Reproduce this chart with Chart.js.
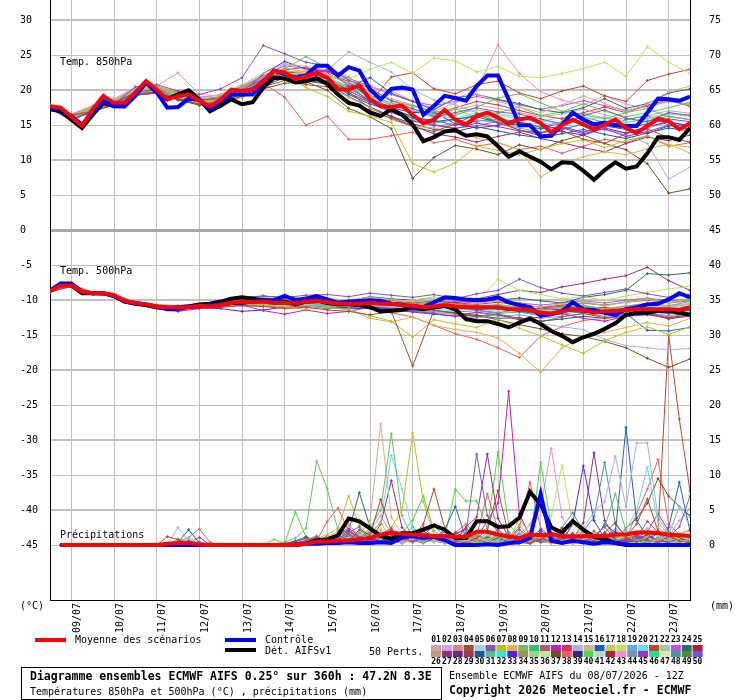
<!DOCTYPE html>
<html>
<head>
<meta charset="utf-8">
<script src="https://cdn.jsdelivr.net/npm/chart.js@4.4.0/dist/chart.umd.min.js"></script>
<style>
  html, body { margin: 0; padding: 0; background: #fff; }
  #wrap { width: 740px; height: 700px; position: relative; }
  canvas { display: block; }
</style>
</head>
<body>
<div id="wrap"><canvas id="chart" width="740" height="700"></canvas></div>
<script>
// ---- data ----
// tick labels
const DATE_LABELS = ['09/07','10/07','11/07','12/07','13/07','14/07','15/07','16/07',
  '17/07','18/07','19/07','20/07','21/07','22/07','23/07'];
const TEMP_TICKS = [-45,-40,-35,-30,-25,-20,-15,-10,-5,0,5,10,15,20,25,30];
const RIGHT_TICKS = [0,5,10,15,20,25,30,35,40,45,50,55,60,65,70,75];

// main series, one value every 6h from 08/07 12Z (+0h .. +360h)
const MEAN_850 = [17.7,17.5,16.2,14.9,17.3,19.2,18.2,18.2,19.7,21.3,
  20.1,18.7,19.2,19.4,18.5,17.7,18.7,20.1,19.9,20.1,
  21.3,22.8,22.5,21.6,22.0,22.5,21.8,20.1,20.1,20.7,
  18.7,17.7,17.6,17.8,16.5,15.3,15.8,17.2,15.8,15.1,
  16.3,16.8,16.1,15.2,15.8,16.1,15.3,14.0,15.0,15.8,
  15.1,14.4,15.1,15.8,14.6,13.9,14.9,15.9,15.6,14.4,15.3];
const CTRL_850 = [17.5,17.3,16.3,15.1,16.8,18.5,17.7,17.7,19.2,21.1,
  19.7,17.5,17.6,18.8,18.7,17.3,18.5,19.4,19.4,19.4,
  21.1,22.8,22.3,21.8,22.1,23.5,23.5,22.1,23.3,22.8,
  20.1,18.7,20.2,20.4,20.1,16.5,17.8,19.2,18.9,18.5,
  20.6,22.1,22.1,18.7,15.0,15.0,13.4,13.5,15.1,16.8,
  15.8,15.1,15.4,15.0,14.9,14.9,16.8,18.8,18.7,18.5,19.1];
const DET_850 = [17.3,17.0,15.8,14.6,16.5,18.2,17.7,17.7,19.4,21.2,
  19.7,18.7,19.4,20.0,18.7,17.0,17.8,18.7,18.0,18.3,
  20.4,21.8,21.7,21.1,21.3,21.7,20.9,19.4,18.2,17.8,
  16.8,16.3,17.3,16.5,15.1,12.7,13.3,14.1,14.3,13.5,
  13.7,13.4,12.0,10.5,11.3,10.5,9.8,8.7,9.7,9.6,
  8.5,7.2,8.6,9.7,8.8,9.1,11.0,13.3,13.3,12.9,14.6];

const MEAN_500 = [-8.7,-7.9,-7.9,-8.8,-9.0,-9.0,-9.3,-10.1,-10.4,-10.6,
  -10.9,-11.0,-11.0,-11.0,-10.8,-10.9,-10.7,-10.4,-10.2,-10.3,
  -10.2,-10.4,-10.4,-10.5,-10.2,-10.1,-10.3,-10.5,-10.5,-10.5,
  -10.4,-10.5,-10.5,-10.7,-10.8,-11.0,-10.9,-10.7,-10.9,-11.0,
  -11.0,-11.0,-11.0,-11.3,-11.3,-11.4,-11.8,-11.9,-11.6,-11.3,
  -11.4,-11.8,-11.6,-11.5,-11.4,-11.3,-11.3,-11.3,-11.3,-11.4,-11.0];
const CTRL_500 = [-8.6,-7.6,-7.6,-8.8,-9.0,-9.0,-9.4,-10.2,-10.4,-10.6,
  -10.9,-11.3,-11.3,-10.9,-10.9,-10.7,-10.6,-10.4,-10.4,-10.2,
  -10.0,-10.0,-9.4,-10.0,-9.8,-9.4,-9.9,-10.4,-10.2,-10.1,
  -10.0,-10.1,-10.5,-10.6,-11.0,-11.0,-10.3,-9.6,-9.7,-9.9,
  -10.0,-9.9,-9.6,-10.3,-10.7,-11.0,-12.2,-12.0,-11.6,-10.3,
  -11.3,-11.4,-11.8,-12.1,-11.3,-11.0,-10.6,-10.5,-9.9,-9.0,-9.6];
const DET_500 = [-8.7,-7.7,-7.9,-9.0,-9.0,-9.0,-9.4,-10.2,-10.5,-10.7,
  -11.0,-11.2,-11.0,-10.9,-10.6,-10.5,-10.2,-9.8,-9.6,-9.8,
  -10.0,-10.1,-10.2,-10.6,-10.2,-10.0,-10.4,-10.6,-10.6,-10.7,
  -11.0,-11.6,-11.5,-11.4,-11.0,-11.3,-11.0,-10.8,-11.3,-12.7,
  -13.0,-13.0,-13.4,-13.9,-13.2,-12.6,-13.4,-14.4,-15.1,-16.0,
  -15.3,-14.8,-14.1,-13.3,-12.1,-11.8,-11.8,-11.5,-11.5,-11.8,-12.1];

// precipitation (mm), no value at +0h
const MEAN_RR = [null,0,0,0,0,0,0,0,0,0,
  0,0.2,0.3,0.3,0.1,0,0,0,0,0,
  0,0,0,0,0.2,0.5,0.5,0.6,0.7,0.8,
  1.0,1.5,1.8,1.6,1.5,1.4,1.3,1.3,1.2,1.2,
  1.9,1.9,1.5,1.2,1.0,1.5,1.4,1.5,1.3,1.2,
  1.3,1.3,1.3,1.5,1.5,1.8,1.8,1.7,1.5,1.4,1.3];
const CTRL_RR = [null,0,0,0,0,0,0,0,0,0,
  0,0,0,0,0,0,0,0,0,0,
  0,0,0,0.1,0.2,0.2,0.3,0.3,0.4,0.3,
  0.3,0.4,0.3,1.1,1.3,1.0,1.2,0.7,0,0,
  0,0.1,0,0.3,0.4,1.0,7.3,0.6,0.3,0.6,
  0.4,0.2,0.4,0.3,0.1,0,0,0,0,0,0];
const DET_RR = [null,0,0,0,0,0,0,0,0,0,
  0,0,0,0,0,0,0,0,0,0,
  0,0,0,0,0.2,0.7,0.8,1.4,3.8,3.4,
  2.4,1.3,0.9,1.7,1.7,2.2,2.8,2.2,1.0,1.0,
  3.4,3.4,2.6,2.7,3.9,7.6,5.8,2.5,1.8,3.4,
  2.2,1.2,0.8,0.3,0,0,0,0,0,0,0];

// perturbed members drawn (number in the 01..50 legend)
const MEMBER_IDS = [4,6,7,8,9,12,14,15,16,18,20,21,24,27,33,37,38,40,43,48,1,10,13,19,23,30,35,45];

// member 850hPa, one value every 12h
const MEMBER_850 = [
  [17.5,16.4,17.0,17.9,19.3,19.6,18.8,18.0,18.1,19.2,20.5,21.4,20.8,20.5,18.4,17.1,16.0,14.8,14.1,15.2,16.6,15.4,14.3,13.5,14.2,13.0,12.4,13.8,14.5,13.2,12.6],
  [17.6,15.8,16.9,18.0,20.5,20.8,19.9,19.4,20.2,21.8,26.4,25.2,24.0,23.5,21.4,20.3,18.5,17.4,16.2,16.8,17.5,16.9,16.6,15.9,15.2,16.4,17.2,16.0,15.5,16.8,16.4],
  [17.8,16.3,17.7,18.6,19.8,20.3,19.5,18.6,18.2,19.0,20.8,22.1,20.4,19.1,17.0,16.3,15.4,9.5,8.3,9.6,12.0,11.4,10.8,11.6,12.4,12.9,11.8,12.8,13.5,12.2,11.9],
  [17.4,16.1,17.2,17.8,19.6,19.9,19.0,18.1,18.8,19.6,21.0,22.6,22.8,20.5,19.0,17.5,15.8,14.9,14.6,14.0,13.2,12.5,11.5,7.6,9.5,10.5,11.2,10.8,11.6,12.3,11.0],
  [17.7,16.0,17.4,18.3,19.9,20.4,19.6,18.2,18.4,20.5,22.0,23.1,24.8,23.2,21.9,19.8,18.5,17.8,17.0,16.4,17.6,18.9,19.5,18.2,17.0,16.5,15.9,16.8,17.4,16.2,15.8],
  [17.6,16.5,17.0,18.0,19.5,19.8,18.9,18.6,18.9,20.1,21.6,22.0,21.5,23.0,20.6,18.4,16.9,15.6,15.0,14.5,15.3,14.8,14.2,13.9,14.6,13.8,14.5,13.4,14.1,15.0,14.4],
  [17.9,16.2,17.5,18.4,20.2,20.6,19.3,18.4,18.5,20.0,21.7,23.8,23.4,22.9,25.5,24.0,22.6,20.1,18.6,17.9,16.8,15.5,14.7,15.4,14.8,15.9,14.5,13.6,12.4,7.3,9.0],
  [17.9,16.0,17.6,18.5,20.1,20.5,19.8,18.9,19.4,20.8,22.4,23.8,22.9,22.0,21.2,19.9,18.8,17.9,17.0,18.2,19.5,18.4,17.6,16.8,17.9,19.2,18.1,16.9,18.0,19.8,20.6],
  [17.5,16.1,17.3,18.3,19.6,20.0,19.0,18.3,18.6,19.8,21.2,22.4,21.6,21.3,19.4,18.0,17.2,16.3,15.5,15.9,16.2,15.4,15.0,14.5,14.8,14.0,14.9,14.4,13.8,14.9,15.1],
  [17.8,16.4,17.6,18.4,19.8,20.4,19.3,18.7,18.9,19.7,21.0,22.3,22.5,22.1,21.6,23.0,24.0,22.4,24.6,24.2,22.6,23.4,22.0,21.8,22.4,23.1,24.0,22.0,26.2,24.0,22.4],
  [17.6,16.0,17.3,18.1,19.4,20.0,19.2,18.4,18.6,19.9,21.4,22.2,21.9,21.5,20.3,19.1,18.0,17.1,16.4,16.0,16.8,16.5,15.9,15.6,15.3,15.8,16.2,15.4,15.9,16.6,16.3],
  [17.7,16.3,17.1,18.2,19.7,20.2,19.4,18.6,18.8,20.0,21.5,22.7,22.2,21.6,19.6,18.3,21.9,22.5,20.2,19.5,20.8,21.3,19.6,18.8,19.9,20.6,19.2,18.4,21.4,22.3,23.0],
  [17.8,16.1,17.4,18.2,19.9,20.1,19.1,18.2,18.4,19.4,21.0,22.4,21.4,21.0,20.5,21.8,19.6,18.4,17.2,18.9,19.4,18.7,18.1,17.2,16.8,17.5,18.8,17.4,18.1,19.6,20.2],
  [17.5,16.2,17.2,18.1,19.6,19.9,19.0,18.5,18.8,19.8,21.2,22.6,22.3,21.9,19.8,17.4,16.2,14.9,13.8,13.3,12.6,13.4,14.0,13.1,12.5,11.8,11.2,12.4,13.3,12.8,13.6],
  [17.4,15.7,17.0,18.0,19.4,19.8,18.7,18.3,18.2,19.5,22.4,24.1,23.0,22.7,21.2,18.9,17.5,16.8,16.9,15.2,14.6,15.0,16.1,15.3,14.1,13.6,14.6,13.9,14.8,15.5,14.9],
  [17.6,16.0,17.1,18.0,19.5,19.7,18.7,17.9,18.2,19.0,20.2,21.0,21.2,20.0,17.4,16.2,14.5,7.4,10.4,12.1,11.6,10.8,12.2,11.5,12.8,13.6,12.4,11.5,9.5,5.3,5.9],
  [17.8,16.5,17.5,18.0,19.5,19.8,19.0,17.8,18.5,19.5,21.0,19.0,15.0,16.3,13.0,13.0,13.5,14.0,12.5,13.0,12.0,12.5,11.5,12.0,11.0,12.0,13.0,12.5,13.5,12.0,12.5],
  [17.7,16.2,17.5,18.3,19.7,20.3,19.5,18.8,19.0,20.2,21.7,22.9,21.8,21.4,20.7,19.2,18.2,17.3,16.6,17.4,16.0,16.8,17.6,16.4,16.9,18.1,17.0,16.2,16.8,17.5,18.3],
  [17.9,16.6,17.8,18.8,20.4,20.6,22.5,19.4,19.2,20.3,21.6,22.8,22.4,22.6,21.5,20.4,19.9,18.5,17.4,18.8,20.0,26.5,22.4,19.8,18.6,17.9,19.2,18.0,17.4,18.6,17.9],
  [17.6,16.0,17.2,18.1,19.5,19.9,18.9,18.0,18.3,19.6,21.1,22.2,21.7,21.1,19.9,18.5,17.3,16.0,15.1,14.6,14.9,15.6,14.3,13.9,14.4,15.2,14.6,15.8,16.4,15.0,14.4],
  [17.7,16.3,17.4,18.3,19.8,20.2,19.3,18.6,18.9,20.3,21.8,23.2,22.6,22.3,20.9,19.6,18.6,17.7,16.9,17.2,17.9,17.4,16.8,16.2,16.6,17.3,16.5,15.8,16.3,17.1,16.7],
  [17.6,16.1,17.2,18.2,19.6,20.0,19.1,18.3,18.5,19.7,21.2,22.5,22.0,21.8,20.2,18.7,17.4,16.2,15.3,15.8,16.5,16.0,15.2,14.8,15.5,16.2,15.4,14.9,15.6,16.3,15.8],
  [17.8,16.4,17.5,18.4,19.9,20.3,19.4,18.7,19.1,20.4,21.9,22.9,23.3,22.4,21.0,19.3,17.9,17.0,16.5,17.5,18.4,17.9,17.1,16.4,15.9,16.8,17.6,16.8,17.9,18.6,17.7],
  [17.5,16.0,17.1,18.0,19.5,19.8,18.9,18.2,18.3,19.5,21.0,22.1,21.8,21.2,19.6,18.2,16.8,15.7,14.9,15.2,15.8,15.3,14.6,14.0,14.5,15.1,14.3,13.9,14.6,15.4,14.9],
  [17.9,16.5,17.7,18.6,20.2,20.6,19.7,19.0,19.3,20.6,22.1,23.5,23.1,22.8,21.7,20.6,19.4,18.4,17.8,18.4,19.1,18.6,17.9,17.3,17.8,18.5,17.8,17.1,17.7,18.4,18.0],
  [17.4,15.9,17.0,17.9,19.3,19.6,18.6,17.9,18.0,19.2,20.6,21.8,21.3,20.9,19.1,17.6,16.3,15.2,14.4,14.1,14.8,14.2,13.6,13.2,13.8,14.4,13.7,13.1,13.9,14.6,14.2],
  [17.7,16.2,17.3,18.2,19.7,20.1,19.2,18.5,18.8,20.0,21.5,22.8,22.4,22.0,20.5,19.0,17.9,16.9,16.1,16.6,17.2,16.7,16.1,15.6,16.1,16.8,16.0,15.4,16.0,16.8,16.4],
  [17.6,16.1,17.2,18.1,19.6,19.9,19.0,18.4,18.6,19.8,21.3,22.6,22.1,21.7,20.0,18.4,17.1,16.0,15.7,15.0,15.6,15.9,15.5,14.7,15.2,15.8,15.0,14.6,15.2,15.9,15.5]
];

// member 500hPa, one value every 12h
const MEMBER_500 = [
  [-8.8,-8.0,-9.1,-9.4,-10.6,-11.2,-11.3,-11.1,-11.0,-10.8,-10.9,-11.2,-11.0,-11.4,-11.6,-12.1,-11.6,-19.4,-11.4,-11.9,-12.4,-12.0,-12.6,-13.1,-12.4,-11.9,-12.5,-12.2,-11.8,-12.6,-12.3],
  [-8.7,-7.8,-9.0,-9.3,-10.3,-10.8,-10.9,-10.6,-10.4,-9.7,-9.4,-9.6,-9.3,-9.2,-9.5,-9.0,-9.3,-9.6,-9.2,-9.8,-9.1,-8.6,-7.0,-8.2,-9.0,-9.4,-8.9,-8.4,-9.1,-9.6,-9.2],
  [-8.6,-7.9,-9.0,-9.3,-10.4,-11.0,-11.2,-11.0,-10.9,-10.6,-10.7,-11.0,-11.3,-11.0,-11.4,-12.2,-13.0,-15.3,-12.8,-13.4,-13.9,-12.7,-14.0,-15.1,-16.4,-17.6,-15.8,-14.6,-13.8,-14.9,-13.8],
  [-8.7,-8.0,-9.1,-9.4,-10.5,-11.0,-11.1,-10.9,-10.8,-10.5,-10.6,-10.9,-10.8,-11.1,-11.3,-12.6,-13.1,-12.4,-13.6,-14.2,-14.6,-15.4,-17.6,-20.3,-16.8,-15.2,-14.6,-13.9,-13.2,-13.7,-12.6],
  [-8.7,-7.8,-8.9,-9.2,-10.3,-10.8,-10.9,-10.7,-10.5,-9.9,-10.0,-10.1,-9.8,-10.0,-10.2,-9.9,-10.3,-10.5,-10.2,-10.6,-10.9,-11.2,-10.8,-11.4,-11.0,-10.7,-11.3,-10.9,-10.4,-10.8,-10.2],
  [-8.8,-8.0,-9.0,-9.4,-10.5,-11.1,-11.6,-11.2,-11.0,-10.7,-11.5,-12.0,-11.4,-11.9,-11.6,-11.0,-11.3,-11.6,-11.9,-12.3,-11.7,-12.1,-12.8,-12.4,-11.9,-12.6,-13.0,-12.3,-11.9,-12.7,-12.2],
  [-8.6,-7.9,-8.9,-9.3,-10.4,-10.9,-11.0,-10.8,-10.6,-10.3,-10.4,-10.6,-10.3,-10.5,-10.8,-10.6,-11.0,-11.2,-11.6,-12.1,-12.6,-12.0,-12.8,-13.3,-13.8,-14.2,-15.6,-16.5,-16.8,-17.1,-16.9],
  [-8.6,-7.7,-8.9,-9.2,-10.2,-10.6,-10.8,-10.5,-10.3,-9.8,-9.6,-9.9,-9.5,-9.8,-10.0,-9.6,-9.9,-10.2,-10.0,-9.8,-10.4,-10.1,-10.6,-11.0,-10.5,-10.2,-10.8,-10.3,-9.9,-10.4,-9.8],
  [-8.7,-7.9,-9.0,-9.3,-10.4,-10.9,-11.0,-10.8,-10.7,-10.2,-10.3,-10.5,-10.2,-10.4,-10.6,-10.5,-10.6,-10.9,-11.0,-11.1,-11.3,-11.2,-11.6,-12.0,-11.7,-11.5,-11.8,-11.9,-14.3,-14.4,-13.9],
  [-8.5,-7.7,-8.8,-9.2,-10.2,-10.7,-10.8,-10.6,-10.4,-10.0,-9.8,-10.0,-9.9,-10.1,-10.3,-10.1,-10.2,-10.0,-9.6,-9.9,-10.2,-7.0,-8.6,-9.2,-9.8,-9.5,-10.0,-9.4,-8.9,-8.4,-8.0],
  [-8.8,-8.1,-9.1,-9.4,-10.6,-11.2,-11.4,-11.1,-11.0,-10.6,-10.7,-10.8,-10.6,-10.7,-10.9,-10.8,-11.0,-11.1,-11.3,-11.5,-11.2,-11.6,-11.4,-12.0,-11.8,-11.3,-11.6,-11.2,-11.0,-10.7,-10.5],
  [-8.7,-7.9,-9.0,-9.2,-10.3,-10.8,-10.9,-10.6,-10.6,-10.1,-10.1,-10.2,-9.9,-10.2,-10.4,-10.0,-10.3,-10.6,-10.9,-10.5,-10.8,-11.0,-11.5,-11.1,-10.9,-11.3,-11.0,-11.6,-12.0,-11.4,-11.2],
  [-8.6,-7.8,-8.9,-9.3,-10.3,-10.7,-10.8,-10.5,-10.3,-9.6,-9.4,-9.7,-9.6,-9.8,-10.1,-9.5,-9.8,-10.0,-9.6,-10.0,-10.3,-10.0,-9.7,-10.1,-10.4,-9.6,-9.2,-8.6,-6.2,-6.4,-6.1],
  [-8.7,-8.0,-9.0,-9.4,-10.5,-11.0,-11.1,-10.9,-10.8,-10.4,-10.5,-10.7,-10.5,-10.6,-10.7,-10.4,-10.8,-10.5,-10.1,-10.4,-9.8,-9.2,-8.6,-8.9,-8.1,-7.6,-7.0,-6.5,-5.3,-7.2,-8.6],
  [-8.8,-8.0,-9.1,-9.4,-10.6,-11.1,-11.3,-11.1,-11.2,-11.6,-11.4,-11.0,-10.8,-11.2,-11.0,-10.9,-11.3,-11.4,-11.2,-10.8,-11.0,-11.3,-11.6,-11.1,-11.4,-11.8,-11.5,-11.2,-11.6,-11.9,-11.4],
  [-8.6,-7.8,-9.0,-9.3,-10.4,-10.9,-11.0,-10.8,-10.7,-10.3,-10.4,-10.6,-10.4,-10.7,-10.9,-10.8,-11.1,-11.4,-11.6,-11.8,-12.2,-12.8,-13.5,-14.1,-14.8,-15.2,-15.9,-16.8,-18.3,-19.6,-18.4],
  [-8.7,-7.9,-9.0,-9.3,-10.4,-10.9,-11.0,-10.8,-10.6,-10.3,-10.3,-10.5,-10.3,-10.5,-10.6,-11.2,-11.8,-12.4,-13.6,-14.8,-15.6,-16.8,-18.2,-15.1,-13.8,-12.9,-12.6,-12.1,-11.8,-12.4,-11.9],
  [-8.6,-7.8,-8.9,-9.2,-10.3,-10.8,-10.9,-10.7,-10.6,-10.1,-10.0,-10.2,-10.0,-10.2,-10.4,-10.2,-10.4,-10.6,-10.4,-10.7,-10.9,-10.6,-11.0,-11.3,-10.9,-10.4,-10.8,-10.2,-9.8,-10.3,-10.0],
  [-8.7,-7.9,-9.0,-9.3,-10.4,-10.9,-11.0,-10.8,-10.7,-10.2,-10.2,-10.4,-10.2,-10.4,-10.5,-10.4,-10.5,-10.8,-10.7,-10.9,-11.1,-10.8,-11.2,-11.5,-11.2,-10.9,-11.3,-10.8,-10.6,-11.0,-10.6],
  [-8.8,-8.0,-9.1,-9.4,-10.5,-11.0,-11.1,-10.9,-10.8,-10.4,-10.4,-10.6,-10.4,-10.6,-10.8,-10.6,-10.8,-11.0,-11.2,-11.0,-11.4,-11.8,-11.3,-11.9,-11.6,-11.2,-11.7,-11.5,-11.2,-11.6,-11.3],
  [-8.7,-7.9,-9.0,-9.3,-10.4,-10.9,-11.0,-10.8,-10.6,-10.2,-10.1,-10.3,-10.0,-10.2,-10.4,-10.2,-10.4,-10.7,-10.6,-10.8,-11.0,-10.7,-11.1,-11.5,-11.1,-10.8,-11.2,-10.8,-10.5,-10.9,-10.5],
  [-8.7,-7.9,-9.0,-9.4,-10.5,-11.0,-11.1,-10.9,-10.8,-10.5,-10.6,-10.8,-10.6,-10.8,-11.0,-10.9,-11.1,-11.3,-11.5,-11.7,-11.5,-11.9,-11.7,-12.2,-12.0,-11.6,-11.9,-11.6,-11.4,-11.8,-11.5],
  [-8.6,-7.8,-8.9,-9.2,-10.3,-10.8,-10.9,-10.7,-10.5,-10.0,-9.9,-10.1,-9.8,-10.0,-10.2,-9.9,-10.1,-10.4,-10.2,-10.4,-10.6,-10.3,-10.7,-11.0,-10.7,-10.4,-10.7,-10.3,-10.0,-10.4,-10.1],
  [-8.8,-8.0,-9.1,-9.4,-10.5,-11.1,-11.2,-11.0,-10.9,-10.6,-10.7,-10.9,-10.7,-10.9,-11.1,-11.0,-11.2,-11.5,-11.8,-12.0,-11.8,-12.3,-12.1,-12.6,-12.3,-11.9,-12.3,-12.0,-11.8,-12.2,-11.8],
  [-8.7,-7.8,-9.0,-9.3,-10.3,-10.8,-10.9,-10.6,-10.4,-9.9,-9.8,-10.0,-9.7,-9.9,-10.1,-9.8,-10.0,-10.2,-10.0,-10.2,-10.4,-10.1,-10.4,-10.7,-10.4,-10.1,-10.4,-10.0,-9.7,-10.1,-9.8],
  [-8.8,-8.0,-9.1,-9.4,-10.6,-11.1,-11.2,-11.0,-10.9,-10.7,-10.8,-11.0,-10.8,-11.0,-11.2,-11.2,-11.4,-11.7,-12.0,-12.3,-12.1,-12.6,-12.5,-13.0,-12.7,-12.3,-12.6,-12.3,-12.1,-12.5,-12.1],
  [-8.6,-7.8,-8.9,-9.3,-10.4,-10.9,-11.0,-10.7,-10.6,-10.2,-10.2,-10.4,-10.1,-10.3,-10.5,-10.3,-10.5,-10.8,-10.8,-11.0,-11.2,-10.9,-11.3,-11.7,-11.3,-11.0,-11.4,-11.0,-10.8,-11.2,-10.8],
  [-8.7,-7.9,-9.0,-9.3,-10.4,-10.9,-11.0,-10.8,-10.7,-10.3,-10.4,-10.6,-10.3,-10.5,-10.7,-10.5,-10.8,-11.0,-10.9,-11.2,-11.4,-11.1,-11.5,-11.9,-11.5,-11.2,-11.6,-11.2,-11.0,-11.4,-11.0]
];

// member precipitation (mm), every 6h
const MEMBER_RR = [
  [null,0,0,0,0,0,0,0,0,0, 0,1.2,0.8,0.3,0,0,0,0,0,0, 0,0,0.2,0.5,1.0,0.4,0.8,1.5,0.6,2.2, 1.4,6.5,2.0,0.8,1.2,3.0,8.0,2.5,0.6,0.3, 1.0,2.1,7.8,1.5,0.4,0.2,0.8,1.6,2.4,0.9, 0.3,0.6,1.8,3.2,1.1,0.5,0.9,2.0,1.4,0.6,0.3],
  [null,0,0,0,0,0,0,0,0,0, 0,0,0.3,0.6,0.2,0,0,0,0,0, 0,0,0,0.3,0.6,1.2,0.5,0.9,1.8,2.6, 0.8,1.5,2.4,1.0,0.5,1.4,2.8,1.2,0.4,1.6, 13.0,4.2,1.8,0.9,2.2,1.0,0.4,0.8,1.9,0.7, 0.5,1.3,2.6,0.8,0.4,1.1,3.4,1.8,1.2,2.6,7.0],
  [null,0,0,0,0,0,0,0,0,0, 0,0,0,0,0,0,0,0,0,0, 0,0,0,0.2,0.4,0.9,1.5,2.4,7.0,2.8, 1.2,0.8,2.5,5.0,16.0,6.2,1.4,0.8,0.5,1.2, 0.6,0.3,0.8,1.7,0.9,0.5,1.4,0.7,0.4,1.0, 2.1,0.6,0.3,0.9,1.6,0.5,0.2,0.8,1.5,0.6,0.4],
  [null,0,0,0,0,0,0,0,0,0, 0,0,0,0,0,0,0,0,0,0, 0,0,0,0,0.3,0.6,0.4,1.2,0.8,0.5, 1.6,3.2,1.0,0.6,0.4,1.8,0.7,0.3,0.9,2.0, 1.1,0.5,0.2,0.6,3.8,1.5,0.8,0.3,0.2,0.4, 0.8,1.6,0.9,0.3,0.1,0.4,1.2,2.6,1.0,0.5,0.8],
  [null,0,0,0,0,0,0,0,0,0, 0,0,0,0.4,0.2,0,0,0,0,0, 0,0.2,0.4,1.0,2.4,12.0,8.0,2.1,1.3,0.8, 2.5,5.0,15.9,4.2,1.0,0.6,1.4,0.9,0.4,0.8, 1.5,0.7,0.3,1.2,2.8,1.0,0.5,0.9,0.4,0.2, 0.6,1.4,2.6,7.3,2.0,0.8,0.4,1.1,0.6,0.3,0.9],
  [null,0,0,0,0,0,0,0,0,0, 0,0,0,0,0,0,0,0,0,0, 0,0,0,0,0.2,0.5,0.8,1.4,2.2,1.0, 0.6,0.9,1.5,0.7,0.4,1.2,0.8,0.5,1.6,2.4, 1.0,3.5,6.0,22.0,4.5,1.2,0.6,0.9,1.8,0.7, 0.4,1.0,0.6,0.3,0.8,1.5,0.7,0.4,1.2,0.6,0.5],
  [null,0,0,0,0,0,0,0,0,0, 0,0,2.5,0.6,0.2,0,0,0,0,0, 0,0,0,0.4,0.9,0.5,1.1,2.0,0.7,0.4, 0.9,1.8,0.6,0.3,0.8,1.5,0.9,0.5,0.3,0.6, 1.2,0.7,0.4,1.0,1.8,0.9,0.5,0.3,0.6,1.1, 2.4,4.8,6.2,12.7,5.5,14.6,14.6,4.0,1.6,5.4,2.8],
  [null,0,0,0,0,0,0,0,0,0, 0,0,0.9,0.4,0,0,0,0,0,0, 0,0,0,0.3,0.7,1.4,0.6,1.0,2.6,1.4, 3.5,17.3,4.0,1.6,0.7,0.4,1.2,2.0,0.8,0.5, 0.9,0.5,1.3,0.6,0.3,0.8,1.5,0.7,0.4,0.9, 1.6,0.8,0.3,0.6,1.2,0.5,0.9,0.4,0.2,0.7,0.5],
  [null,0,0,0,0,0,0,0,0,0, 0,0,0.4,2.2,0.3,0,0,0,0,0, 0,0,0.2,0.6,1.2,0.5,0.3,0.8,1.4,0.6, 1.1,0.5,0.9,1.8,0.7,0.3,0.9,2.2,5.5,1.0, 0.6,0.4,1.0,0.5,0.3,0.8,1.9,0.6,0.3,0.9, 1.4,0.7,3.0,1.8,16.8,3.5,1.2,0.8,2.5,9.0,2.0],
  [null,0,0,0,0,0,0,0,0,0, 0,0,0,0,0,0,0,0,0,0, 0,0,0,0.2,0.5,0.3,0.7,1.2,0.5,0.9, 1.3,2.4,1.0,0.5,0.9,1.6,0.7,0.4,1.0,0.6, 0.3,0.8,1.5,0.6,1.2,2.8,1.0,4.2,11.4,3.0, 1.2,0.6,0.3,0.8,1.4,0.5,0.9,0.4,1.6,0.8,0.3],
  [null,0,0,0,0,0,0,0,0,0, 0,0,0.6,1.0,0.3,0,0,0,0,0, 0,0,0,0.3,0.8,0.4,1.0,1.6,0.9,2.0, 1.2,3.4,12.8,8.0,2.2,0.9,0.5,1.1,0.6,0.3, 0.8,1.4,0.6,0.3,0.7,1.2,0.5,0.9,2.0,1.0, 0.5,0.8,1.5,0.6,2.2,5.0,11.1,3.2,1.5,5.5,4.0],
  [null,0,0,0,0,0,0,0,0,0, 0,0,0,0,0,0,0,0,0,0, 0,0,0,0,0.2,0.6,0.3,0.8,1.5,0.7, 0.4,1.0,2.2,0.8,0.5,1.3,0.6,0.3,0.9,1.6, 0.8,0.4,0.7,1.4,0.6,0.3,0.9,1.8,0.7,0.4, 1.0,2.0,0.8,0.5,1.2,3.0,6.6,2.0,30.0,18.0,7.7],
  [null,0,0,0,0,0,0,0,0,0, 0,0,0,0,0,0,0,0,0,0, 0,0,0,0.3,0.6,0.9,0.5,1.2,2.0,7.5, 2.6,1.0,0.6,1.4,0.8,0.4,1.1,0.7,1.8,0.9, 0.5,1.2,0.7,0.4,0.9,1.6,0.8,0.5,1.1,0.6, 0.3,0.9,1.7,0.8,0.5,1.2,0.6,0.4,1.9,1.0,0.6],
  [null,0,0,0,0,0,0,0,0,0, 0,0,0,0.3,0.1,0,0,0,0,0, 0,0,0,0.2,0.6,1.0,0.5,1.4,2.5,1.2, 0.7,3.0,9.2,2.5,1.0,0.6,1.3,0.8,0.5,2.6, 4.0,13.0,3.8,1.2,0.7,0.4,1.0,0.6,1.5,0.8, 3.2,13.2,3.5,1.0,0.6,1.4,0.8,0.5,1.1,0.7,0.4],
  [null,0,0,0,0,0,0,0,0,0, 0,0,0,0,0,0,0,0,0,0, 0,0,0,0.2,0.4,0.8,0.4,0.9,0.5,1.1, 0.6,1.4,0.8,0.4,1.0,2.0,1.2,0.6,0.3,0.8, 1.5,0.7,0.4,0.9,0.5,1.1,2.2,0.9,0.5,3.0, 11.3,3.5,1.0,0.6,0.3,0.8,1.5,0.7,0.4,0.9,0.5],
  [null,0,0,0,0,0,0,0,0,0, 0,0,0,0,0,0,0,0,0,0, 0,0,0,0,0.3,0.5,0.2,0.7,1.3,0.6, 0.4,1.0,0.6,0.3,0.8,1.5,0.7,0.4,1.0,0.5, 0.3,0.7,1.4,0.6,0.3,0.9,0.5,0.3,0.8,1.6, 0.9,0.5,1.2,0.7,2.4,3.8,6.0,9.5,7.0,5.5,4.2],
  [null,0,0,0,0,0,0,0,0,0, 0,0,0.5,1.1,2.3,0.4,0,0,0,0, 0,0,0,0.4,0.9,0.6,3.4,5.3,2.0,1.2, 0.8,1.4,0.7,0.5,1.2,2.6,1.0,0.6,1.8,3.0, 1.4,7.3,2.2,0.9,2.5,9.0,2.4,1.0,0.6,1.4, 0.8,0.5,1.2,2.0,0.9,4.5,8.0,12.2,3.0,1.5,2.2],
  [null,0,0,0,0,0,0,0,0,0, 0,0,0,0,0,0,0,0,0,0, 0,0.8,0.3,4.7,1.2,0.6,1.0,0.5,1.4,0.8, 0.5,1.2,0.7,1.8,3.5,7.0,2.0,1.0,8.0,6.3, 6.3,2.4,13.3,3.0,1.1,0.6,11.8,2.6,0.9,0.5, 1.2,0.7,0.4,1.3,0.8,0.5,1.4,0.7,0.3,0.9,0.6],
  [null,0,0,0,0,0,0,0,0,0, 0,0,0.8,0.4,0,0,0,0,0,0, 0,0,0,0.3,0.6,1.0,0.6,1.8,3.0,1.2, 2.0,4.2,1.5,0.8,0.5,1.0,0.6,0.4,1.2,0.7, 0.4,0.9,1.6,0.7,1.4,3.0,5.5,13.8,4.0,1.2, 0.6,1.1,0.5,0.3,0.9,1.6,0.8,0.5,1.2,3.5,5.2],
  [null,0,0,0,0,0,0,0,0,0, 0,0,0,0,0,0,0,0,0,0, 0,0,0,0.2,0.5,0.3,0.8,1.2,0.6,1.8, 0.9,0.5,1.4,0.7,0.4,1.1,0.6,0.9,1.6,2.2, 0.8,0.5,1.0,0.6,0.3,0.9,1.4,0.7,2.5,4.6, 2.0,4.0,11.8,3.0,1.0,0.6,1.3,0.8,0.4,1.0,0.5],
  [null,0,0,0,0,0,0,0,0,0, 0,0,0.4,0.8,0.2,0,0,0,0,0, 0,0,0,0.2,0.5,0.8,0.4,1.1,1.6,0.7, 1.2,2.2,0.9,0.5,1.4,0.8,0.4,1.0,0.6,0.3, 0.9,1.6,0.8,0.4,1.1,2.0,0.9,0.5,1.3,0.7, 0.4,0.9,1.8,0.8,0.5,1.2,2.4,1.1,0.6,1.0,0.7],
  [null,0,0,0,0,0,0,0,0,0, 0,0,0,0,0,0,0,0,0,0, 0,0,0,0.3,0.6,0.3,0.9,1.5,0.7,1.2, 2.0,0.8,0.5,1.1,2.6,1.0,0.6,0.3,0.8,1.4, 0.7,0.4,1.0,1.9,0.8,0.5,1.2,0.6,0.3,0.9, 1.5,0.7,0.4,0.8,1.6,0.9,0.5,1.1,0.6,0.4,0.8],
  [null,0,0,0,0,0,0,0,0,0, 0,0,0.6,0.3,1.1,0,0,0,0,0, 0,0,0,0.4,0.8,0.5,1.3,0.7,1.9,1.0, 0.6,1.5,0.8,0.4,1.0,1.8,0.9,0.5,1.2,0.7, 0.4,1.1,2.2,1.0,0.6,1.4,0.7,0.4,0.9,1.7, 0.8,0.5,1.3,0.7,0.4,1.0,1.9,4.5,2.0,0.8,0.6],
  [null,0,0,0,0,0,0,0,0,0, 0,0,0,0,0,0,0,0,0,0, 0,0,0,0.2,0.4,0.7,0.3,0.8,1.2,0.6, 0.9,1.7,0.8,0.4,0.9,1.5,0.7,0.4,1.1,2.0, 0.9,0.5,1.2,0.7,0.4,1.0,1.8,0.8,0.5,1.3, 0.7,0.4,1.1,2.3,1.0,0.6,1.4,0.7,0.4,0.9,0.6],
  [null,0,0,0,0,0,0,0,0,0, 0,0,0,0.2,0.5,0,0,0,0,0, 0,0,0,0.3,0.7,1.2,0.6,1.0,2.1,0.9, 0.5,1.2,0.7,0.3,0.8,1.6,0.8,0.4,1.0,0.5, 0.3,0.8,1.5,0.7,0.4,0.9,1.7,0.8,0.5,1.1, 0.6,0.3,0.9,1.8,0.8,0.5,1.2,0.6,0.4,0.8,0.5],
  [null,0,0,0,0,0,0,0,0,0, 0,0,0,0,0,0,0,0,0,0, 0,0,0,0.2,0.5,0.3,0.7,1.3,0.6,1.0, 1.8,0.9,0.5,1.2,0.7,0.4,1.0,1.9,0.9,0.5, 1.1,0.6,0.3,0.8,1.6,0.8,0.4,1.0,0.6,0.3, 0.8,1.5,0.7,0.4,1.0,0.6,0.3,0.8,1.4,0.7,0.4],
  [null,0,0,0,0,0,0,0,0,0, 0,0,0.3,0.5,0,0,0,0,0,0, 0,0,0,0.3,0.6,0.9,0.5,1.2,0.8,1.5, 0.7,0.4,1.0,1.8,0.9,0.5,1.2,0.6,0.3,0.8, 1.4,0.7,0.4,1.0,0.6,1.8,0.8,0.5,1.2,0.6, 0.4,0.9,1.6,0.8,0.5,1.1,0.6,0.3,0.7,1.3,0.8],
  [null,0,0,0,0,0,0,0,0,0, 0,0,0,0,0,0,0,0,0,0, 0,0,0,0.2,0.5,0.8,0.4,1.0,1.7,0.8, 0.5,1.1,2.0,0.9,0.5,1.2,0.7,0.4,0.9,1.6, 0.8,0.5,1.1,0.6,0.3,0.8,1.5,0.7,0.4,1.0, 1.9,0.9,0.5,1.2,0.7,0.4,0.9,1.6,0.8,0.5,0.9]
];

// legend colours of the 50 perturbations
const PERT_COLORS = ['#d4a0a8','#d8a0e0','#e08088','#a05030','#a0d0e8','#8058b0','#c0c020','#e0b050','#78b868','#30c070',
  '#c05078','#c020b8','#e03058','#a8b0e0','#d0b088','#2060b8','#c8c860','#b8e858','#68a8e0','#60e0e8',
  '#c04828','#a0c8a0','#c050e0','#287060','#b02030',
  '#c09878','#903080','#603088','#904050','#205898','#58c090','#30e8e0','#6020e0','#a09050','#90d890',
  '#c0e890','#705028','#e86060','#302878','#50d840','#b0d8c8','#a02840','#e890d0','#7098b0','#a030c8',
  '#20e090','#e0e8a0','#409898','#508838','#7050e8'];

const FONT = '"DejaVu Sans Mono", monospace';

function toPoints(values, stepHours) {
  return values.map((v, i) => ({ x: i * stepHours, y: v }));
}

function mainSet(values, step, color, axis) {
  return {
    data: toPoints(values, step), borderColor: color, backgroundColor: color,
    borderWidth: 4, pointRadius: 0, yAxisID: axis,
  };
}

function memberSet(values, step, color, axis) {
  return {
    data: toPoints(values, step), borderColor: color, backgroundColor: color,
    borderWidth: 1, pointRadius: 1.5, pointStyle: 'cross', pointBorderWidth: 1,
    yAxisID: axis,
  };
}

const datasets = [
  mainSet(MEAN_850, 6, '#ff0000', 'y'),
  mainSet(MEAN_500, 6, '#ff0000', 'y'),
  mainSet(MEAN_RR, 6, '#ff0000', 'y2'),
  mainSet(CTRL_850, 6, '#0000ff', 'y'),
  mainSet(CTRL_500, 6, '#0000ff', 'y'),
  mainSet(CTRL_RR, 6, '#0000ff', 'y2'),
  mainSet(DET_850, 6, '#000000', 'y'),
  mainSet(DET_500, 6, '#000000', 'y'),
  mainSet(DET_RR, 6, '#000000', 'y2'),
];
MEMBER_IDS.forEach((id, m) => {
  const c = PERT_COLORS[id - 1];
  datasets.push(memberSet(MEMBER_850[m], 12, c, 'y'));
  datasets.push(memberSet(MEMBER_500[m], 12, c, 'y'));
  datasets.push(memberSet(MEMBER_RR[m], 6, c, 'y2'));
});

// texts, legend and title box
const decorations = {
  id: 'decorations',
  afterDraw(chart) {
    const ctx = chart.ctx;
    ctx.save();
    ctx.fillStyle = '#000';
    ctx.textBaseline = 'middle';
    ctx.textAlign = 'left';
    ctx.font = '10px ' + FONT;
    ctx.fillText('Temp. 850hPa', 60, 62);
    ctx.fillText('Temp. 500hPa', 60, 271);
    ctx.fillText('Précipitations', 60, 535);
    ctx.fillText('(°C)', 20, 606);
    ctx.fillText('(mm)', 710, 606);

    // line legend
    ctx.fillStyle = '#ff0000'; ctx.fillRect(35, 638, 31, 4);
    ctx.fillStyle = '#0000ff'; ctx.fillRect(225, 638, 31, 4);
    ctx.fillStyle = '#000000'; ctx.fillRect(225, 648, 31, 4);
    ctx.fillText('Moyenne des scénarios', 75, 640);
    ctx.fillText('Contrôle', 265, 640);
    ctx.fillText('Dét. AIFSv1', 265, 651);
    ctx.fillText('50 Perts.', 369, 652);

    // perturbation colour grid
    ctx.font = 'bold 8px ' + FONT;
    ctx.textAlign = 'center';
    for (let k = 0; k < 25; k++) {
      const x = 431 + k * 10.9;
      ctx.fillStyle = PERT_COLORS[k];
      ctx.fillRect(x, 645, 10, 6);
      ctx.fillStyle = PERT_COLORS[k + 25];
      ctx.fillRect(x, 651, 10, 6);
      ctx.fillStyle = '#000';
      ctx.fillText(String(k + 1).padStart(2, '0'), x + 5, 640);
      ctx.fillText(String(k + 26), x + 5, 662);
    }

    // title box
    ctx.textAlign = 'left';
    ctx.strokeStyle = '#000';
    ctx.lineWidth = 1;
    ctx.strokeRect(21.5, 667.5, 420, 32);
    ctx.font = 'bold 11.5px ' + FONT;
    ctx.fillText('Diagramme ensembles ECMWF AIFS 0.25° sur 360h : 47.2N 8.3E', 30, 677);
    ctx.fillText('Copyright 2026 Meteociel.fr - ECMWF', 449, 691);
    ctx.font = '10px ' + FONT;
    ctx.fillText('Températures 850hPa et 500hPa (°C) , précipitations (mm)', 30, 692);
    ctx.fillText('Ensemble ECMWF AIFS du 08/07/2026 - 12Z', 449, 676);
    ctx.restore();
  }
};

function gridWidth(ctx) {
  const v = ctx.tick.value;
  if (v === 0) return 3;
  return v % 10 === 0 ? 2 : 1;
}

new Chart(document.getElementById('chart'), {
  type: 'line',
  data: { datasets },
  plugins: [decorations],
  options: {
    responsive: false,
    animation: false,
    devicePixelRatio: 1,
    layout: { autoPadding: false, padding: { left: 20, right: 0, top: 0, bottom: 0 } },
    plugins: { legend: { display: false }, tooltip: { enabled: false } },
    elements: { line: { tension: 0 } },
    scales: {
      x: {
        type: 'linear', min: 0, max: 360,
        afterBuildTicks: s => { s.ticks = DATE_LABELS.map((d, k) => ({ value: 12 + 24 * k })); },
        ticks: {
          autoSkip: false, minRotation: 90, maxRotation: 90, labelOffset: 6, padding: 3,
          font: { family: FONT, size: 10 }, color: '#000',
          callback: (v, i) => DATE_LABELS[i],
        },
        grid: { color: '#c0c0c0', lineWidth: 1, drawTicks: false },
        border: { color: '#000', width: 1 },
        afterFit: s => { s.height = 100; s.paddingLeft = 0; s.paddingRight = 0; },
      },
      y: {
        position: 'left', min: -52.85, max: 32.9,
        afterBuildTicks: s => { s.ticks = TEMP_TICKS.map(v => ({ value: v })); },
        ticks: { crossAlign: 'far', padding: 0, font: { family: FONT, size: 10 }, color: '#000' },
        grid: {
          color: ctx => ctx.tick.value === 0 ? '#a8a8a8' : '#c0c0c0',
          lineWidth: gridWidth, drawTicks: false,
        },
        border: { color: '#000', width: 1 },
        afterFit: s => { s.width = 30; s.paddingTop = 0; s.paddingBottom = 0; },
      },
      y2: {
        position: 'right', min: -7.85, max: 77.9,
        afterBuildTicks: s => { s.ticks = RIGHT_TICKS.map(v => ({ value: v })); },
        ticks: { padding: 19, font: { family: FONT, size: 10 }, color: '#000' },
        grid: { display: false, drawTicks: false },
        border: { color: '#000', width: 1 },
        afterFit: s => { s.width = 50; s.paddingTop = 0; s.paddingBottom = 0; },
      },
    },
  },
});
</script>
</body>
</html>
